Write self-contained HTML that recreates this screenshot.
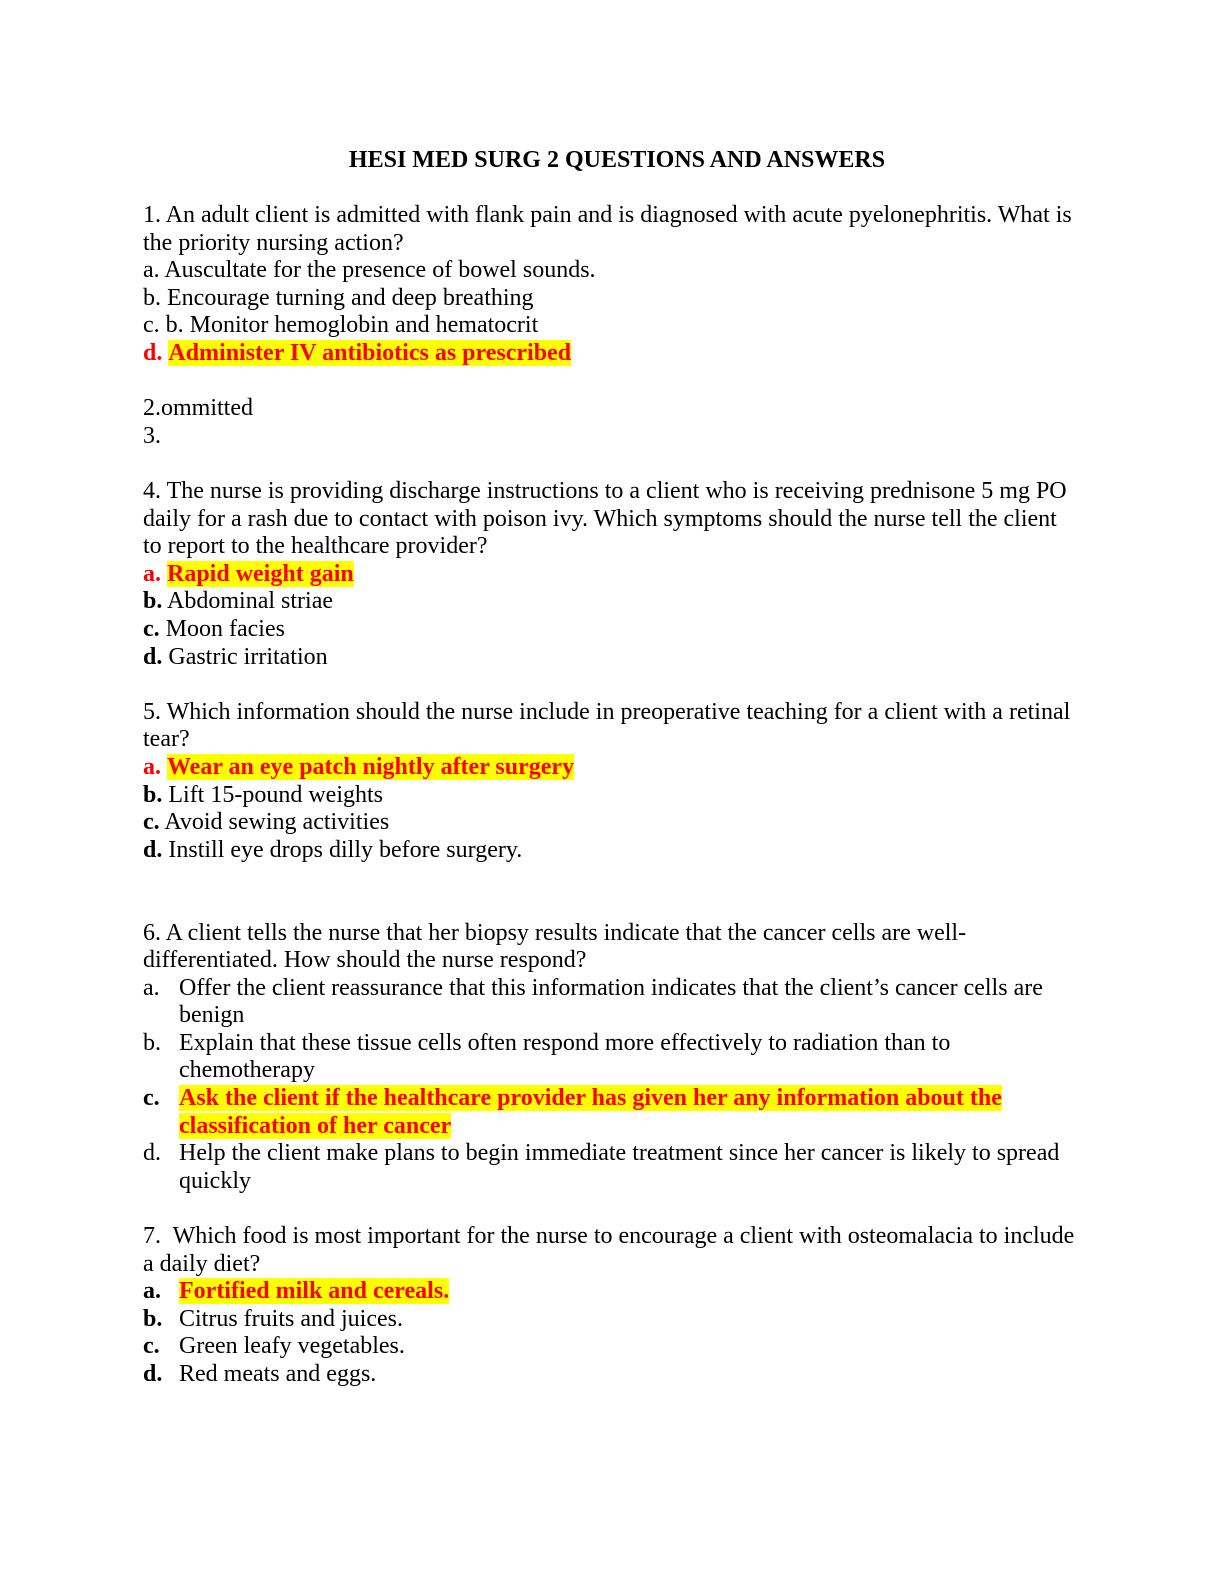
<!DOCTYPE html>
<html>
<head>
<meta charset="utf-8">
<style>
  html, body { margin: 0; padding: 0; background: #ffffff; }
  body { width: 1224px; height: 1584px; position: relative; overflow: hidden; }
  #doc {
    position: absolute;
    left: 143px;
    top: 146.9px;
    width: 940px;
    font-family: "Liberation Serif", "Times New Roman", serif;
    font-size: 24px;
    color: #000;
  }
  .l { height: 27.6px; line-height: 27.6px; white-space: nowrap; position: relative; }
  .title { font-weight: bold; text-align: center; width: 938px; margin-left: 5px; }
  .r { color: #ff0000; font-weight: bold; }
  .hl { background: #ffff00; color: #ff0000; font-weight: bold; }
  b { font-weight: bold; }
  .lab { position: absolute; left: 0; top: 0; }
  .ind { position: absolute; left: 36px; top: 0; }
</style>
</head>
<body>
<div id="doc">
  <div class="l title">HESI MED SURG 2 QUESTIONS AND ANSWERS</div>
  <div class="l">&nbsp;</div>

  <div class="l">1. An adult client is admitted with flank pain and is diagnosed with acute pyelonephritis. What is</div>
  <div class="l">the priority nursing action?</div>
  <div class="l">a. Auscultate for the presence of bowel sounds.</div>
  <div class="l">b. Encourage turning and deep breathing</div>
  <div class="l">c. b. Monitor hemoglobin and hematocrit</div>
  <div class="l"><span class="r">d.</span> <span class="hl">Administer IV antibiotics as prescribed</span></div>
  <div class="l">&nbsp;</div>

  <div class="l">2.ommitted</div>
  <div class="l">3.</div>
  <div class="l">&nbsp;</div>

  <div class="l">4. The nurse is providing discharge instructions to a client who is receiving prednisone 5 mg PO</div>
  <div class="l">daily for a rash due to contact with poison ivy. Which symptoms should the nurse tell the client</div>
  <div class="l">to report to the healthcare provider?</div>
  <div class="l"><span class="r">a.</span> <span class="hl">Rapid weight gain</span></div>
  <div class="l"><b>b.</b> Abdominal striae</div>
  <div class="l"><b>c.</b> Moon facies</div>
  <div class="l"><b>d.</b> Gastric irritation</div>
  <div class="l">&nbsp;</div>

  <div class="l">5. Which information should the nurse include in preoperative teaching for a client with a retinal</div>
  <div class="l">tear?</div>
  <div class="l"><span class="r">a.</span> <span class="hl">Wear an eye patch nightly after surgery</span></div>
  <div class="l"><b>b.</b> Lift 15-pound weights</div>
  <div class="l"><b>c.</b> Avoid sewing activities</div>
  <div class="l"><b>d.</b> Instill eye drops dilly before surgery.</div>
  <div class="l">&nbsp;</div>
  <div class="l">&nbsp;</div>

  <div class="l">6. A client tells the nurse that her biopsy results indicate that the cancer cells are well-</div>
  <div class="l">differentiated. How should the nurse respond?</div>
  <div class="l"><span class="lab">a.</span><span class="ind">Offer the client reassurance that this information indicates that the client’s cancer cells are</span></div>
  <div class="l"><span class="ind">benign</span></div>
  <div class="l"><span class="lab">b.</span><span class="ind">Explain that these tissue cells often respond more effectively to radiation than to</span></div>
  <div class="l"><span class="ind">chemotherapy</span></div>
  <div class="l"><span class="lab"><b>c.</b></span><span class="ind"><span class="hl">Ask the client if the healthcare provider has given her any information about the</span></span></div>
  <div class="l"><span class="ind"><span class="hl">classification of her cancer</span></span></div>
  <div class="l"><span class="lab">d.</span><span class="ind">Help the client make plans to begin immediate treatment since her cancer is likely to spread</span></div>
  <div class="l"><span class="ind">quickly</span></div>
  <div class="l">&nbsp;</div>

  <div class="l">7.&nbsp; Which food is most important for the nurse to encourage a client with osteomalacia to include</div>
  <div class="l">a daily diet?</div>
  <div class="l"><span class="lab"><b>a.</b></span><span class="ind"><span class="hl">Fortified milk and cereals.</span></span></div>
  <div class="l"><span class="lab"><b>b.</b></span><span class="ind">Citrus fruits and juices.</span></div>
  <div class="l"><span class="lab"><b>c.</b></span><span class="ind">Green leafy vegetables.</span></div>
  <div class="l"><span class="lab"><b>d.</b></span><span class="ind">Red meats and eggs.</span></div>
</div>
</body>
</html>
